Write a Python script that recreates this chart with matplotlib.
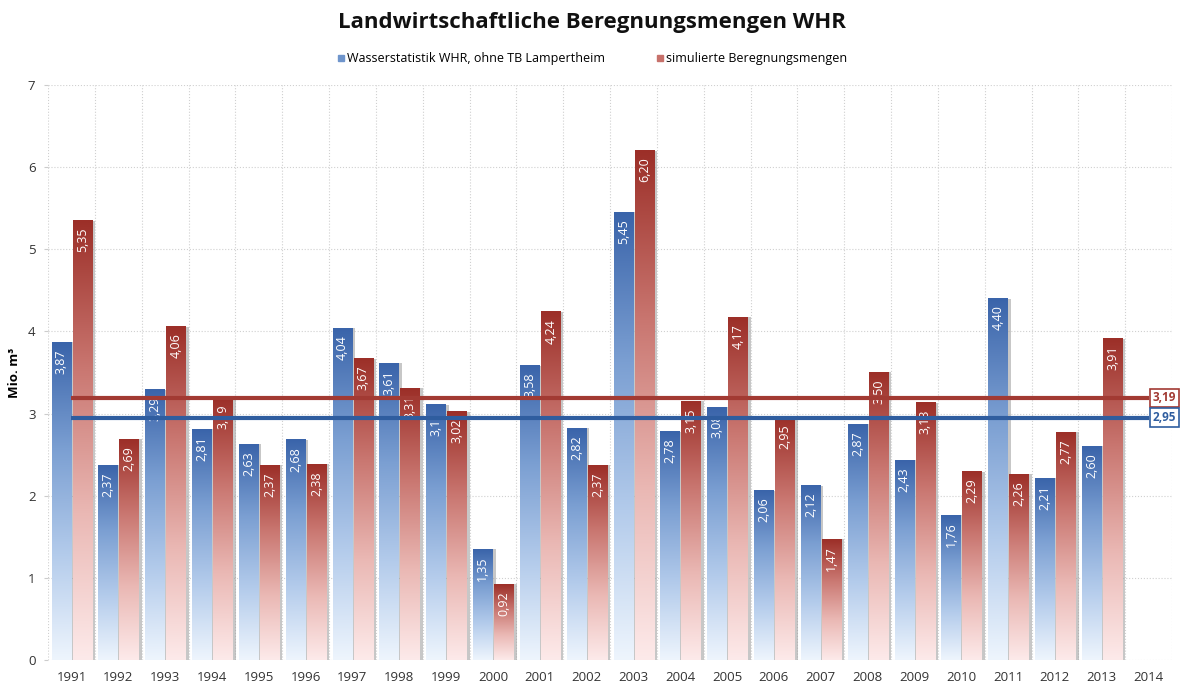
import numpy as np
import matplotlib
matplotlib.use("Agg")
import matplotlib.pyplot as plt
from matplotlib.colors import LinearSegmentedColormap
from matplotlib.lines import Line2D

years = [str(y) for y in range(1991, 2015)]
wasserstatistik = [3.87, 2.37, 3.29, 2.81, 2.63, 2.68, 4.04, 3.61, 3.11, 1.35, 3.58, 2.82,
                   5.45, 2.78, 3.08, 2.06, 2.12, 2.87, 2.43, 1.76, 4.40, 2.21, 2.60, None]
simuliert = [5.35, 2.69, 4.06, 3.19, 2.37, 2.38, 3.67, 3.31, 3.02, 0.92, 4.24, 2.37,
             6.20, 3.15, 4.17, 2.95, 1.47, 3.50, 3.13, 2.29, 2.26, 2.77, 3.91, None]
mean_wasser = 2.95
mean_sim = 3.19
labels = ["Wasserstatistik WHR, ohne TB Lampertheim", "simulierte Beregnungsmengen"]

plt.rcParams['font.family'] = ['Open Sans', 'DejaVu Sans']

fig = plt.figure(figsize=(11.83, 6.86), dpi=100)
ax = fig.add_axes([0.0406, 0.038, 0.9501, 0.838])

blue_cmap = LinearSegmentedColormap.from_list("b", ["#eef5fd", "#b3cbeb", "#7b9fd2", "#3a64aa"])
red_cmap = LinearSegmentedColormap.from_list("r", ["#fdeaea", "#eab8b4", "#c97670", "#9c2f28"])
grad = np.linspace(0, 1, 256).reshape(-1, 1)

w = 0.42
offsets = [-0.215, 0.235]
x = np.arange(len(years))

def fmt(v):
    return f"{v:.2f}".replace(".", ",")

for series, off, cmap in [(wasserstatistik, offsets[0], blue_cmap), (simuliert, offsets[1], red_cmap)]:
    for i, v in enumerate(series):
        if v is None:
            continue
        x0 = i + off - w / 2
        # shadow
        ax.add_patch(plt.Rectangle((x0 + 0.06, 0), w, v, facecolor="#9a9a9a", alpha=0.55,
                                   edgecolor="none", zorder=2))
        ax.imshow(grad, extent=[x0, x0 + w, 0, v], origin="lower", aspect="auto",
                  cmap=cmap, zorder=3, interpolation="bicubic")
        ax.annotate(fmt(v), (i + off, v), xytext=(0, -5), textcoords="offset points",
                    rotation=90, ha="center", va="top", color="white", fontsize=9,
                    zorder=5)

# mean lines
for m, col in [(mean_sim, "#a23a33"), (mean_wasser, "#2f5d9f")]:
    ax.plot([0, 23], [m, m], color=col, lw=3, zorder=6, solid_capstyle="butt")
    ax.annotate(fmt(m), (23, m), xytext=(3, 0), textcoords="offset points",
                ha="left", va="center", color=col, fontsize=8.5, fontweight="bold",
                bbox=dict(boxstyle="square,pad=0.25", facecolor="white", edgecolor=col, lw=1.2),
                annotation_clip=False, zorder=7)

ax.set_xlim(-0.5, len(years) - 0.5)
ax.set_ylim(0, 7)
ax.set_xticks(x)
ax.set_xticklabels(years, fontsize=9.5, color="#333333")
ax.set_yticks(range(0, 8))
ax.set_yticklabels([str(i) for i in range(0, 8)], fontsize=9.5, color="#333333")
ax.set_xticks(np.arange(-0.5, len(years), 1), minor=True)
ax.tick_params(axis="x", which="both", length=0, pad=8)
ax.tick_params(axis="y", length=3, color="#cccccc", pad=6)
ax.grid(True, axis="y", which="major", color="#d0d0d0", ls=":", lw=0.8, zorder=0)
ax.grid(True, axis="x", which="minor", color="#d0d0d0", ls=":", lw=0.8, zorder=0)
ax.grid(False, axis="x", which="major")
for s in ax.spines.values():
    s.set_visible(False)
ax.set_axisbelow(True)

ax.set_ylabel("Mio. m³", fontsize=9.5, fontweight="bold", labelpad=5)

fig.text(0.5, 0.967, "Landwirtschaftliche Beregnungsmengen WHR", ha="center", va="center",
         fontsize=16, fontweight="bold", color="#111111")

handles = [Line2D([], [], marker="s", ls="none", color="#6f95cc", markersize=4),
           Line2D([], [], marker="s", ls="none", color="#c7716b", markersize=4)]
fig.legend(handles, labels, loc="center", bbox_to_anchor=(0.5, 0.914), ncol=2,
           frameon=False, fontsize=9, handletextpad=0.1, columnspacing=4, handlelength=0.8)

fig.savefig("out.png", dpi=100)
